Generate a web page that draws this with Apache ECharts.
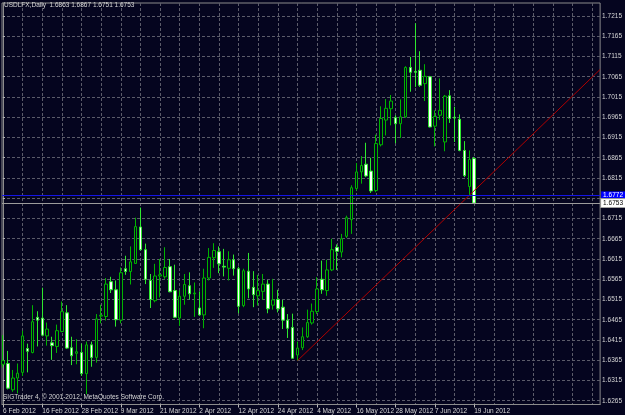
<!DOCTYPE html>
<html>
<head>
<meta charset="utf-8">
<title>USDLFX,Daily</title>
<script src="https://cdn.jsdelivr.net/npm/echarts@6/dist/echarts.min.js"></script>
<style>
html, body { margin: 0; padding: 0; background: #05051f; }
#chart { width: 625px; height: 415px; }
</style>
</head>
<body>
<div id="chart"></div>
<script>
// daily bars, 6 Feb 2012 .. 19 Jun 2012 (weekdays)
var dates = [
	'6 Feb 2012', '7 Feb 2012', '8 Feb 2012', '9 Feb 2012', '10 Feb 2012',
	'13 Feb 2012', '14 Feb 2012', '15 Feb 2012', '16 Feb 2012', '17 Feb 2012',
	'20 Feb 2012', '21 Feb 2012', '22 Feb 2012', '23 Feb 2012', '24 Feb 2012',
	'27 Feb 2012', '28 Feb 2012', '29 Feb 2012', '1 Mar 2012', '2 Mar 2012',
	'5 Mar 2012', '6 Mar 2012', '7 Mar 2012', '8 Mar 2012', '9 Mar 2012',
	'12 Mar 2012', '13 Mar 2012', '14 Mar 2012', '15 Mar 2012', '16 Mar 2012',
	'19 Mar 2012', '20 Mar 2012', '21 Mar 2012', '22 Mar 2012', '23 Mar 2012',
	'26 Mar 2012', '27 Mar 2012', '28 Mar 2012', '29 Mar 2012', '30 Mar 2012',
	'2 Apr 2012', '3 Apr 2012', '4 Apr 2012', '5 Apr 2012', '6 Apr 2012',
	'9 Apr 2012', '10 Apr 2012', '11 Apr 2012', '12 Apr 2012', '13 Apr 2012',
	'16 Apr 2012', '17 Apr 2012', '18 Apr 2012', '19 Apr 2012', '20 Apr 2012',
	'23 Apr 2012', '24 Apr 2012', '25 Apr 2012', '26 Apr 2012', '27 Apr 2012',
	'30 Apr 2012', '1 May 2012', '2 May 2012', '3 May 2012', '4 May 2012',
	'7 May 2012', '8 May 2012', '9 May 2012', '10 May 2012', '11 May 2012',
	'14 May 2012', '15 May 2012', '16 May 2012', '17 May 2012', '18 May 2012',
	'21 May 2012', '22 May 2012', '23 May 2012', '24 May 2012', '25 May 2012',
	'28 May 2012', '29 May 2012', '30 May 2012', '31 May 2012', '1 Jun 2012',
	'4 Jun 2012', '5 Jun 2012', '6 Jun 2012', '7 Jun 2012', '8 Jun 2012',
	'11 Jun 2012', '12 Jun 2012', '13 Jun 2012', '14 Jun 2012', '15 Jun 2012',
	'18 Jun 2012', '19 Jun 2012'
];

var opens = [
	1.6355, 1.6357, 1.6292, 1.6321, 1.6335, 1.6394, 1.6384, 1.6471, 1.6469, 1.6425,
	1.6408, 1.6399, 1.6436, 1.6482, 1.6396, 1.6382, 1.6384, 1.6332, 1.6403, 1.6372,
	1.6474, 1.6473, 1.6559, 1.6539, 1.6464, 1.6591, 1.6584, 1.6604, 1.6694, 1.6638,
	1.6562, 1.6512, 1.6573, 1.6571, 1.6596, 1.6537, 1.6469, 1.6523, 1.6549, 1.6529,
	1.6494, 1.6477, 1.6568, 1.6618, 1.6633, 1.6597, 1.6592, 1.6613, 1.6591, 1.6500,
	1.6585, 1.6545, 1.6524, 1.6535, 1.6553, 1.6501, 1.6515, 1.6496, 1.6464, 1.6446,
	1.6378, 1.6396, 1.6423, 1.6457, 1.6485, 1.6565, 1.6537, 1.6588, 1.6644, 1.6632,
	1.6671, 1.6712, 1.6789, 1.6830, 1.6849, 1.6832, 1.6784, 1.6897, 1.6958, 1.6986,
	1.6964, 1.6949, 1.6966, 1.7088, 1.7078, 1.7081, 1.7048, 1.7065, 1.6943, 1.6970,
	1.6904, 1.7018, 1.6965, 1.6960, 1.6883, 1.6794, 1.6863
];
var highs = [
	1.6427, 1.6388, 1.6341, 1.6357, 1.6438, 1.6406, 1.6501, 1.6486, 1.6544, 1.6458,
	1.6423, 1.6453, 1.6510, 1.6501, 1.6423, 1.6417, 1.6406, 1.6411, 1.6411, 1.6479,
	1.6502, 1.6568, 1.6571, 1.6562, 1.6594, 1.6623, 1.6646, 1.6717, 1.6742, 1.6653,
	1.6578, 1.6603, 1.6615, 1.6644, 1.6615, 1.6601, 1.6537, 1.6578, 1.6582, 1.6557,
	1.6535, 1.6591, 1.6642, 1.6654, 1.6646, 1.6640, 1.6634, 1.6626, 1.6596, 1.6591,
	1.6630, 1.6585, 1.6576, 1.6578, 1.6563, 1.6566, 1.6539, 1.6514, 1.6479, 1.6480,
	1.6411, 1.6446, 1.6490, 1.6505, 1.6570, 1.6611, 1.6613, 1.6665, 1.6651, 1.6677,
	1.6722, 1.6797, 1.6852, 1.6869, 1.6902, 1.6865, 1.6922, 1.6992, 1.7010, 1.7020,
	1.6970, 1.7009, 1.7091, 1.7114, 1.7197, 1.7128, 1.7096, 1.7067, 1.6982, 1.7061,
	1.7020, 1.7032, 1.6991, 1.6972, 1.6906, 1.6883, 1.6867
];
var lows = [
	1.6347, 1.6293, 1.6287, 1.6283, 1.6326, 1.6335, 1.6382, 1.6399, 1.6424, 1.6401,
	1.6366, 1.6383, 1.6434, 1.6393, 1.6353, 1.6355, 1.6326, 1.6281, 1.6349, 1.6359,
	1.6456, 1.6463, 1.6531, 1.6448, 1.6456, 1.6576, 1.6552, 1.6603, 1.6636, 1.6553,
	1.6494, 1.6508, 1.6520, 1.6566, 1.6533, 1.6469, 1.6450, 1.6502, 1.6515, 1.6472,
	1.6475, 1.6444, 1.6562, 1.6593, 1.6580, 1.6572, 1.6562, 1.6574, 1.6481, 1.6496,
	1.6518, 1.6496, 1.6500, 1.6514, 1.6481, 1.6490, 1.6483, 1.6442, 1.6420, 1.6369,
	1.6364, 1.6390, 1.6420, 1.6453, 1.6479, 1.6529, 1.6524, 1.6585, 1.6588, 1.6619,
	1.6667, 1.6677, 1.6784, 1.6801, 1.6817, 1.6778, 1.6780, 1.6893, 1.6920, 1.6945,
	1.6901, 1.6914, 1.6964, 1.7028, 1.7040, 1.7040, 1.7005, 1.6940, 1.6893, 1.6958,
	1.6881, 1.6951, 1.6904, 1.6881, 1.6817, 1.6772, 1.6751
];
var closes = [
	1.6364, 1.6296, 1.6321, 1.6333, 1.6425, 1.6387, 1.6460, 1.6464, 1.6427, 1.6442,
	1.6401, 1.6438, 1.6485, 1.6395, 1.6376, 1.6386, 1.6332, 1.6403, 1.6372, 1.6467,
	1.6476, 1.6553, 1.6539, 1.6465, 1.6581, 1.6584, 1.6608, 1.6695, 1.6638, 1.6565,
	1.6515, 1.6573, 1.6576, 1.6594, 1.6534, 1.6471, 1.6523, 1.6552, 1.6529, 1.6531,
	1.6477, 1.6568, 1.6619, 1.6636, 1.6603, 1.6595, 1.6613, 1.6591, 1.6498, 1.6586,
	1.6541, 1.6527, 1.6537, 1.6553, 1.6492, 1.6514, 1.6492, 1.6464, 1.6444, 1.6370,
	1.6395, 1.6423, 1.6458, 1.6486, 1.6541, 1.6539, 1.6588, 1.6638, 1.6634, 1.6665,
	1.6717, 1.6791, 1.6830, 1.6846, 1.6820, 1.6783, 1.6900, 1.6962, 1.6987, 1.7005,
	1.6949, 1.6966, 1.7088, 1.7076, 1.7076, 1.7044, 1.7066, 1.6941, 1.6967, 1.6982,
	1.7017, 1.6962, 1.6963, 1.6883, 1.6821, 1.6861, 1.6753
];

// price scale labels on the right
var priceTicks = [
	1.6265, 1.6315, 1.6365, 1.6415, 1.6465, 1.6515, 1.6565, 1.6615, 1.6665, 1.6715,
	1.6765, 1.6815, 1.6865, 1.6915, 1.6965, 1.7015, 1.7065, 1.7115, 1.7165, 1.7215
];
// bar numbers that carry a date label, and bar numbers with a vertical grid line
var dateTicks = [0, 8, 16, 24, 32, 40, 48, 56, 64, 72, 80, 88, 96];
var gridTicks = [0, 4, 8, 12, 16, 20, 24, 28, 32, 36, 40, 44, 48, 52, 56, 60,
	64, 68, 72, 76, 80, 84, 88, 92, 96, 100, 104, 108, 112, 116, 120];

var bidPrice = 1.6753;
var askPrice = 1.6772;
// trend line: bar number and price of its two anchor points
var trendX = [60, 121.65];
var trendY = [1.6364, 1.7083];

var symbolName = 'USDLFX,Daily';
var copyright = 'SIGTrader 4, \u00a9 2001-2012, MetaQuotes Software Corp.';

var xMin = -0.2, xMax = 121.65;
var yMin = 1.62557, yMax = 1.72471;

var bg = '#05051f';
var fontFamily = '"Liberation Sans", Arial, sans-serif';
var textColor = '#d6d6d6';
var gridColor = '#5c5c6a';
var frameColor = '#8c8c8c';

var candles = dates.map(function (d, i) {
	return [i, opens[i], closes[i], lows[i], highs[i]];
});
var last = dates.length - 1;
var header = symbolName + '  ' + [opens[last], highs[last], lows[last], closes[last]]
	.map(function (v) { return v.toFixed(4); }).join(' ');

var chart = echarts.init(document.getElementById('chart'));

function priceLabel(v, fg, back, border) {
	return {
		show: true, position: 'end', distance: 1,
		formatter: v.toFixed(4),
		color: fg, backgroundColor: back,
		borderColor: border, borderWidth: border ? 1 : 0,
		padding: [1, 2, 0, 2], fontSize: 6.5, fontFamily: fontFamily
	};
}

var option = {
	backgroundColor: bg,
	animation: false,
	title: [{
		text: header,
		left: 4, top: 2, padding: 0,
		textStyle: { color: textColor, fontSize: 6.5, fontWeight: 'normal', fontFamily: fontFamily }
	}, {
		text: copyright,
		left: 3, top: 394, padding: 0,
		textStyle: { color: textColor, fontSize: 6.5, fontWeight: 'normal', fontFamily: fontFamily }
	}],
	grid: {
		left: 1, right: 23.3, top: 3, bottom: 10.5,
		show: true, borderColor: frameColor, borderWidth: 1,
		backgroundColor: 'transparent'
	},
	xAxis: [{
		type: 'value', min: xMin, max: xMax, position: 'bottom',
		axisLine: { show: true, lineStyle: { color: frameColor } },
		axisTick: { show: false, customValues: gridTicks },
		axisLabel: { show: false },
		splitLine: { show: true, lineStyle: { color: gridColor, width: 1, type: [3, 2] } }
	}, {
		type: 'value', min: xMin, max: xMax, position: 'bottom',
		axisLine: { show: false },
		axisTick: { show: true, customValues: dateTicks, length: 3, inside: false, lineStyle: { color: '#b8b8b8' } },
		axisLabel: {
			show: true, customValues: dateTicks,
			formatter: function (v) { return dates[v]; },
			align: 'left', margin: 3,
			color: textColor, fontSize: 6.5, fontFamily: fontFamily
		},
		splitLine: { show: false }
	}],
	yAxis: {
		type: 'value', position: 'right', min: yMin, max: yMax, scale: true,
		axisLine: { show: true, lineStyle: { color: frameColor } },
		axisTick: { show: true, customValues: priceTicks, length: 2, lineStyle: { color: '#b8b8b8' } },
		axisLabel: {
			customValues: priceTicks,
			formatter: function (v) { return v.toFixed(4); },
			margin: 2, color: textColor, fontSize: 6.5, fontFamily: fontFamily
		},
		splitLine: { show: true, lineStyle: { color: gridColor, width: 1, type: [3, 2] } }
	},
	series: [{
		name: symbolName,
		type: 'candlestick',
		xAxisIndex: 0,
		yAxisIndex: 0,
		data: candles,
		encode: { x: 0, y: [1, 2, 3, 4] },
		barWidth: 3,
		itemStyle: {
			color: bg,
			color0: '#ffffff',
			borderColor: '#00b400',
			borderColor0: '#2ee82e',
			borderWidth: 1
		}
	}, {
		name: 'trend',
		type: 'line',
		xAxisIndex: 0,
		yAxisIndex: 0,
		data: [[trendX[0], trendY[0]], [trendX[1], trendY[1]]],
		symbol: 'none',
		silent: true,
		z: 3,
		lineStyle: { color: '#b00000', width: 1 },
		markLine: {
			silent: true,
			precision: 4,
			symbol: ['none', 'none'],
			animation: false,
			data: [{
				yAxis: askPrice,
				lineStyle: { color: '#1414e6', width: 1, type: 'solid' },
				label: priceLabel(askPrice, '#ffffff', '#0000ff', null)
			}, {
				yAxis: bidPrice,
				lineStyle: { color: '#9c9c9c', width: 1, type: 'solid' },
				label: priceLabel(bidPrice, '#000000', '#ffffff', '#999999')
			}]
		}
	}]
};

chart.setOption(option);

window.addEventListener('resize', function () {
	chart.resize();
});
</script>
</body>
</html>
